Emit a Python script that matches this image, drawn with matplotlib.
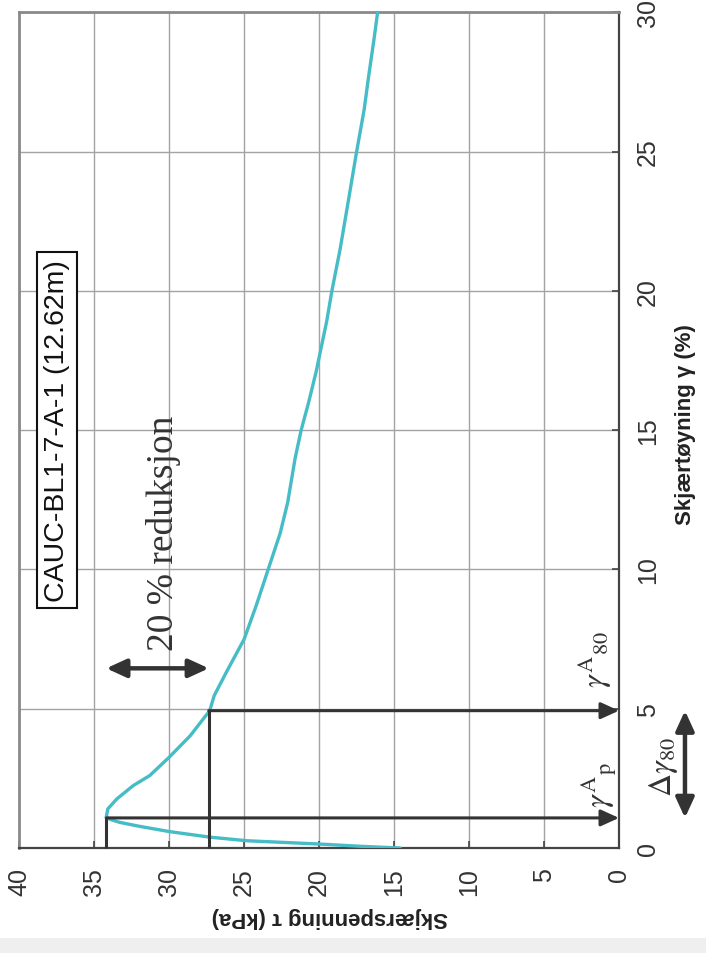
import matplotlib
matplotlib.use("Agg")
import matplotlib.pyplot as plt
from matplotlib.patches import Rectangle

# Measured stress-strain curve (CAUC test)
gamma_pct = [0.0, 0.06, 0.14, 0.26, 0.39, 0.59, 0.78, 0.92, 1.02, 1.10, 1.40,
             1.76, 2.24, 2.60, 3.26, 4.03, 4.93, 5.47, 6.30, 7.50, 8.70, 10.0,
             11.3, 12.4, 14.0, 15.0, 16.0, 17.1, 18.9, 20.0, 21.5, 23.4, 25.0,
             26.5, 27.7, 29.0, 30.0]
tau_kpa = [14.6, 17.2, 19.9, 24.8, 27.3, 30.0, 32.0, 33.3, 33.9, 34.2, 34.1,
           33.5, 32.4, 31.3, 30.0, 28.6, 27.3, 27.0, 26.2, 25.0, 24.2, 23.4,
           22.6, 22.1, 21.6, 21.2, 20.7, 20.2, 19.5, 19.15, 18.6, 18.0, 17.5,
           17.0, 16.7, 16.35, 16.1]

# Peak and 80 % post-peak points
tau_peak = 34.2
gamma_peak = 1.08
tau_80 = 0.8 * tau_peak
gamma_80 = 4.93

tau_ticks = [0, 5, 10, 15, 20, 25, 30, 35, 40]
gamma_ticks = [0, 5, 10, 15, 20, 25, 30]

plt.rcParams['mathtext.fontset'] = 'stix'
sans = ['Liberation Sans', 'DejaVu Sans']
serif = ['Liberation Serif', 'DejaVu Serif']

W, H = 706, 954
fig = plt.figure(figsize=(W / 100, H / 100), dpi=100)
fig.patches.append(Rectangle((0, 0), 1, 15 / H, transform=fig.transFigure,
                             facecolor='#efefef', edgecolor='none', zorder=0))

ax = fig.add_axes([19.3 / W, 1 - 849 / H, (619 - 19.3) / W, (849 - 13.3) / H])
ax.set_xlim(40, 0)
ax.set_ylim(0, 30)
ax.set_xticks(tau_ticks)
ax.set_yticks(gamma_ticks)
ax.grid(True, color='#a3a3a3', linewidth=1.0)
ax.set_axisbelow(True)

ax.yaxis.tick_right()
ax.tick_params(axis='both', direction='in', length=5, width=1.2,
               color='#444444', labelcolor='#333333', labelsize=18)
ax.tick_params(axis='x', pad=14, labelrotation=90)
ax.tick_params(axis='y', pad=12, labelrotation=90)
for lbl in ax.get_xticklabels() + ax.get_yticklabels():
    lbl.set_family(sans)
for lbl in ax.get_yticklabels():
    lbl.set_verticalalignment('center')

for side in ('left', 'top'):
    ax.spines[side].set_color('#8a8a8a')
    ax.spines[side].set_linewidth(2.0)
for side in ('right', 'bottom'):
    ax.spines[side].set_color('#444444')
    ax.spines[side].set_linewidth(1.6)

# Curve
ax.plot(tau_kpa, gamma_pct, color='#45bcc6', linewidth=2.4, zorder=3,
        solid_capstyle='round', solid_joinstyle='round')

dark = '#333333'
head = dict(arrowstyle='-|>,head_length=1.1,head_width=0.5', color=dark,
            lw=2.2, shrinkA=0, shrinkB=0, mutation_scale=10)

# Peak markers
ax.plot([tau_peak, tau_peak], [0, gamma_peak], color=dark, lw=2.2, zorder=4,
        clip_on=False, solid_capstyle='butt')
ax.annotate('', xy=(0, gamma_peak), xytext=(tau_peak, gamma_peak),
            arrowprops=head, zorder=4)
# 80 % markers
ax.plot([tau_80, tau_80], [0, gamma_80], color=dark, lw=2.2, zorder=4,
        clip_on=False, solid_capstyle='butt')
ax.annotate('', xy=(0, gamma_80), xytext=(tau_80, gamma_80),
            arrowprops=head, zorder=4)

dbl = dict(arrowstyle='<|-|>,head_length=1.2,head_width=0.55', color=dark,
           lw=3.2, shrinkA=0, shrinkB=0, mutation_scale=10)
# 20 % reduction arrow
ax.annotate('', xy=(tau_peak, 6.45), xytext=(tau_80, 6.45),
            arrowprops=dbl, zorder=4)
# Delta gamma_80 arrow (outside the axes)
ax.annotate('', xy=(-4.4, gamma_peak), xytext=(-4.4, gamma_80),
            arrowprops=dbl, annotation_clip=False, zorder=4)

ax.text(30.4, 11.34, '20 % reduksjon', rotation=90, ha='center', va='center',
        fontsize=27, family=serif, color='#333333')
ax.text(1.6, 6.8, r'$\gamma^{\mathrm{A}}{}_{80}$', rotation=90, ha='center',
        va='center', fontsize=23, color='#333333')
ax.text(1.3, 2.3, r'$\gamma^{\mathrm{A}}{}_{\mathrm{p}}$', rotation=90,
        ha='center', va='center', fontsize=23, color='#333333', clip_on=False)
ax.text(-3.0, 2.94, r'$\Delta\gamma_{80}$', rotation=90, ha='center',
        va='center', fontsize=23, color='#333333', clip_on=False)

ax.text(37.5, 15.0, 'CAUC-BL1-7-A-1 (12.62m)', rotation=90, ha='center',
        va='center', fontsize=20.5, family=sans, color='#111111',
        bbox=dict(boxstyle='square,pad=0.25', facecolor='white',
                  edgecolor='#111111', linewidth=1.5))

# Axis titles
fig.text(685 / W, 1 - 425 / H, 'Skjærtøyning γ (%)', rotation=90, ha='center',
         va='center', fontsize=16, fontweight='bold', family=sans,
         color='#222222')
fig.text(330 / W, 1 - 918 / H, 'Skjærspenning τ (kPa)', rotation=180,
         ha='center', va='center', fontsize=16, fontweight='bold',
         family=sans, color='#222222')

fig.savefig('out.png', dpi=100)
